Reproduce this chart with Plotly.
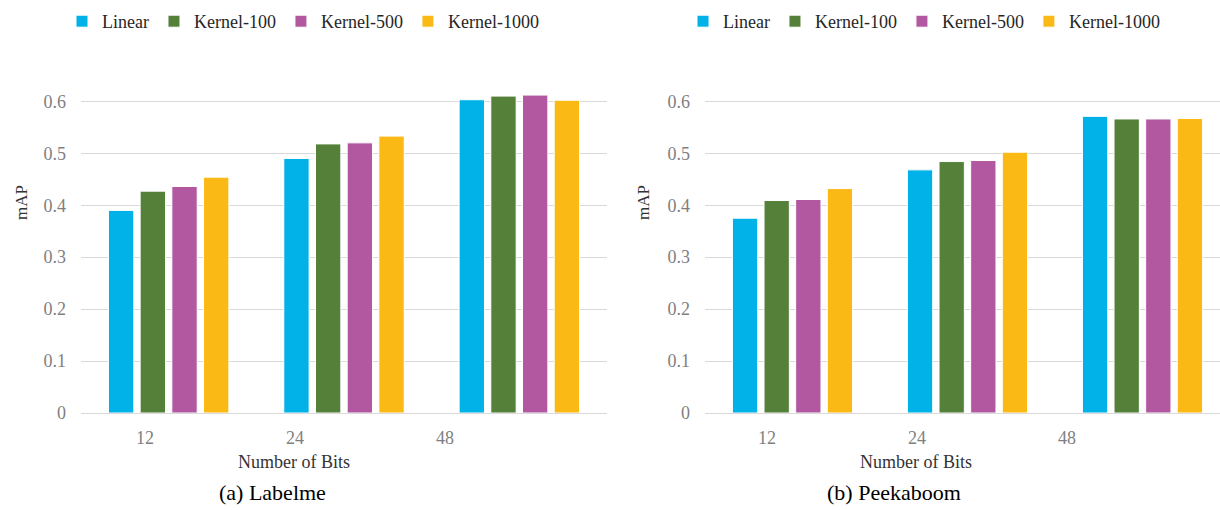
import plotly.graph_objects as go

bits = ["12", "24", "48"]
series = ["Linear", "Kernel-100", "Kernel-500", "Kernel-1000"]
colors = ["#00B2E8", "#548039", "#B158A1", "#FBB915"]

labelme = {
    "Linear": [0.390, 0.490, 0.603],
    "Kernel-100": [0.427, 0.518, 0.610],
    "Kernel-500": [0.436, 0.520, 0.612],
    "Kernel-1000": [0.454, 0.533, 0.602],
}
peekaboom = {
    "Linear": [0.375, 0.468, 0.571],
    "Kernel-100": [0.409, 0.484, 0.566],
    "Kernel-500": [0.411, 0.486, 0.566],
    "Kernel-1000": [0.432, 0.502, 0.567],
}
ytick_vals = [0, 0.1, 0.2, 0.3, 0.4, 0.5, 0.6]
ytick_text = ["0", "0.1", "0.2", "0.3", "0.4", "0.5", "0.6"]

W, H = 1220, 510
FONT = "Liberation Serif, Times New Roman, serif"

fig = go.Figure()
for name, col in zip(series, colors):
    fig.add_trace(go.Bar(x=bits, y=labelme[name], name=name, marker_color=col,
                         marker_line=dict(color="white", width=1),
                         xaxis="x", yaxis="y", legend="legend"))
for name, col in zip(series, colors):
    fig.add_trace(go.Bar(x=bits, y=peekaboom[name], name=name, marker_color=col,
                         marker_line=dict(color="white", width=1),
                         xaxis="x2", yaxis="y2", legend="legend2"))

ydom = [1 - 413 / H, 1 - 413 / H + 0.62 * 519.5 / H]
yax = dict(range=[0, 0.62], domain=ydom, tickvals=ytick_vals, ticktext=ytick_text,
           showgrid=True, gridcolor="#D9D9D9", gridwidth=1, zeroline=True,
           zerolinecolor="#D9D9D9", zerolinewidth=1, ticks="", automargin=False,
           ticklabelstandoff=14, tickfont=dict(family=FONT, size=18, color="#7F7F7F"))
xax = dict(range=[-0.5, 2.5], showticklabels=False, showgrid=False, zeroline=False,
           ticks="", type="category", automargin=False)

legend_common = dict(orientation="h", yanchor="top", y=1 - 3 / H, xanchor="left",
                     font=dict(family=FONT, size=18, color="#262626"),
                     bgcolor="rgba(0,0,0,0)", itemwidth=30, tracegroupgap=0)

fig.update_layout(
    template="none",
    width=W, height=H, margin=dict(l=0, r=0, t=0, b=0, autoexpand=False),
    plot_bgcolor="white", paper_bgcolor="white",
    barmode="group", bargap=0.277, bargroupgap=0.2,
    xaxis=dict(xax, domain=[81 / W, 607 / W]),
    yaxis=dict(yax, anchor="x"),
    xaxis2=dict(xax, domain=[705 / W, 1.0], range=[-0.5, -0.5 + 515 / 175]),
    yaxis2=dict(yax, anchor="x2"),
    legend=dict(legend_common, x=62 / W),
    legend2=dict(legend_common, x=683 / W),
)

def ann(x, y, text, size, color, angle=0):
    fig.add_annotation(x=x / W, y=1 - y / H, xref="paper", yref="paper", text=text,
                       showarrow=False, textangle=angle, xanchor="center", yanchor="middle",
                       font=dict(family=FONT, size=size, color=color))

for lbl, xl, xr in zip(bits, [145, 295, 445], [767, 917, 1067]):
    ann(xl, 438, lbl, 18, "#7F7F7F")
    ann(xr, 438, lbl, 18, "#7F7F7F")

ann(294, 462, "Number of Bits", 18, "#333333")
ann(916, 462, "Number of Bits", 18, "#333333")
ann(22, 203, "mAP", 17, "#333333", -90)
ann(644, 203, "mAP", 17, "#333333", -90)
ann(272, 492, "(a) Labelme", 22, "#000000")
ann(894, 492, "(b) Peekaboom", 22, "#000000")

fig.write_html("out.html", config={"displayModeBar": False},
               post_script="document.body.style.margin='0';")
